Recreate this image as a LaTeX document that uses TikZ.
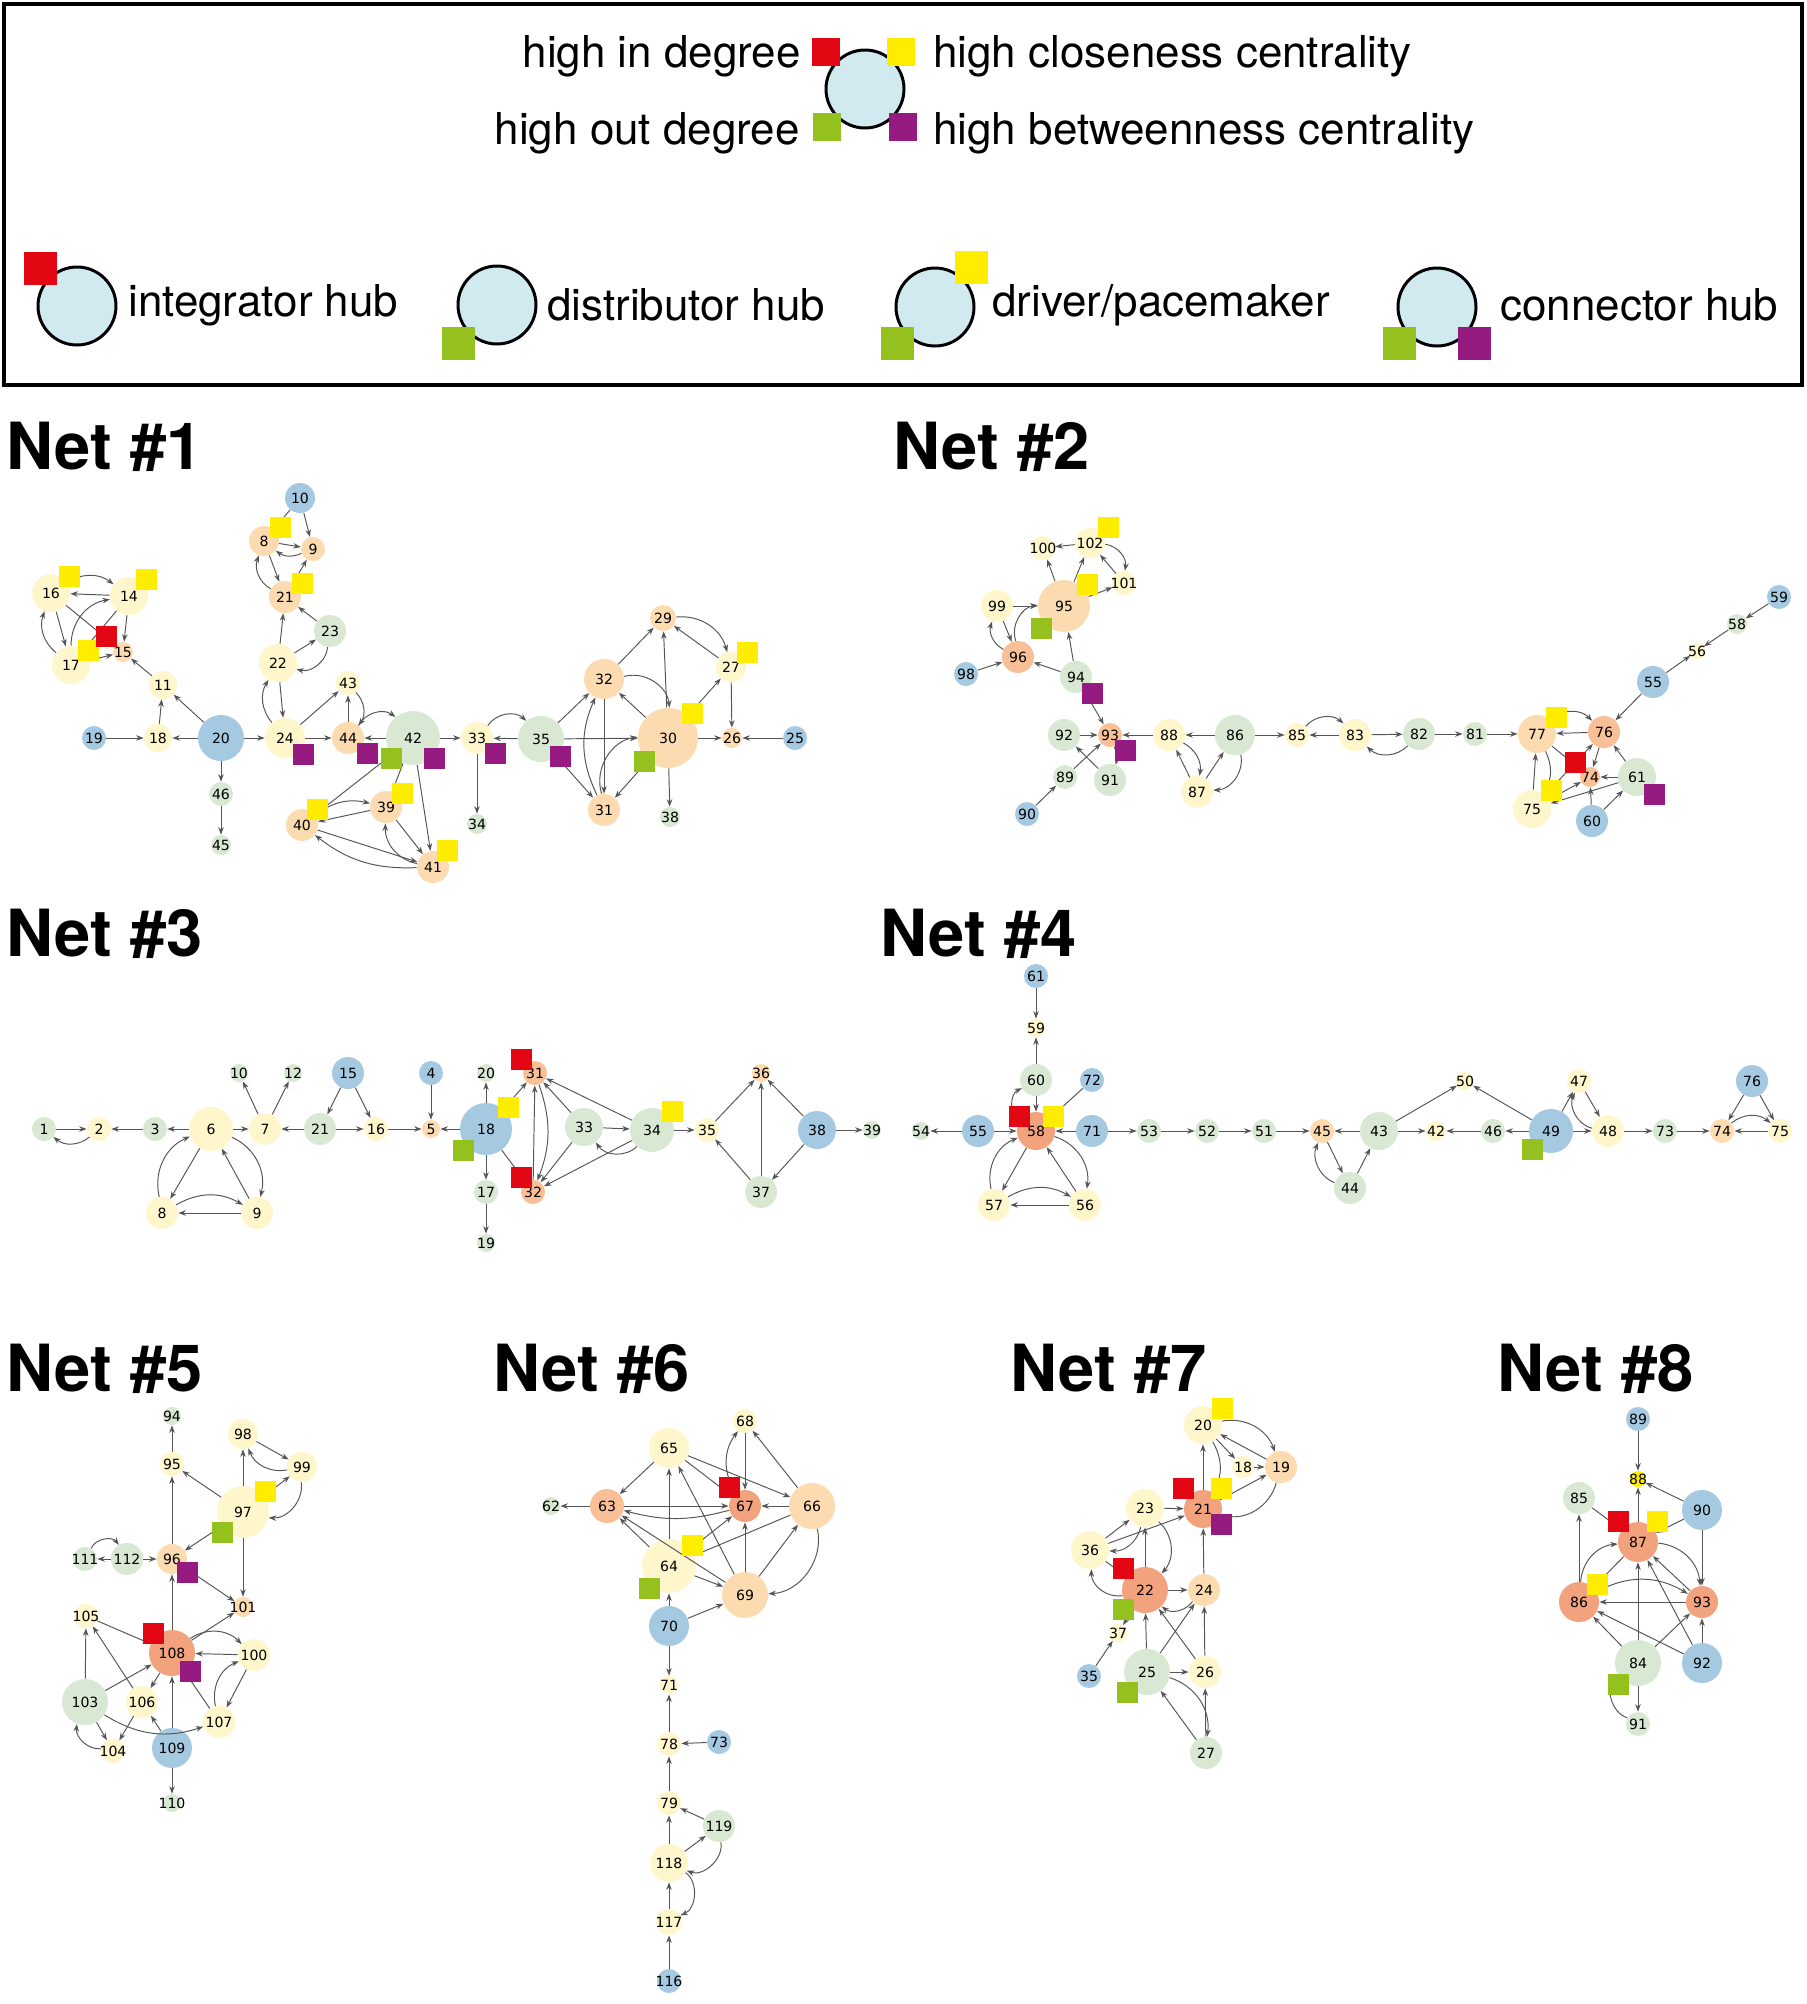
\documentclass[tikz,border=0pt]{standalone}
\usepackage{fontspec}
\setmainfont{TeX Gyre Heros}
\newfontfamily\lblfont{DejaVu Sans}
\usetikzlibrary{arrows.meta}

\definecolor{nblue}{RGB}{166,201,226}
\definecolor{nyel}{RGB}{255,246,204}
\definecolor{npeach}{RGB}{253,219,176}
\definecolor{norange}{RGB}{249,192,152}
\definecolor{nsalm}{RGB}{242,163,126}
\definecolor{ngreen}{RGB}{217,232,211}
\definecolor{hubcyan}{RGB}{208,234,240}
\definecolor{mred}{RGB}{227,6,19}
\definecolor{myel}{RGB}{255,237,0}
\definecolor{mgrn}{RGB}{149,193,31}
\definecolor{mpur}{RGB}{149,27,129}
\definecolor{linkgray}{RGB}{85,85,85}

\newcommand{\lb}[1]{\makebox[0pt]{#1}}

\tikzset{
  vtx/.style={circle, inner sep=0pt, minimum size=#1*0.4mm,
    font=\lblfont\fontsize{8}{8}\selectfont},
  nb/.style={fill=nblue}, ny/.style={fill=nyel}, np/.style={fill=npeach},
  no/.style={fill=norange}, ns/.style={fill=nsalm}, ng/.style={fill=ngreen},
  sqr/.style={rectangle, inner sep=0pt, minimum size=#1},
  qr/.style={fill=mred}, qy/.style={fill=myel}, qg/.style={fill=mgrn}, qp/.style={fill=mpur},
  hub/.style={circle, draw=black, line width=1.7pt, fill=hubcyan, minimum size=15.6mm},
  lgd/.style={font=\fontsize{25}{30}\selectfont, inner sep=0pt},
  nettitle/.style={font=\bfseries\fontsize{37}{40}\selectfont, inner sep=0pt, anchor=west}
}

\begin{document}
\begin{tikzpicture}[x=0.2mm, y=-0.2mm]
\useasboundingbox (0,0) rectangle (1807,2004);

% legend
\draw[line width=2.2pt] (4,4) rectangle (1802,385);
\node[hub] (lc) at (865,89) {};
\node[sqr=5.6mm, qr] (lcr) at (826,52) {};
\node[sqr=5.6mm, qy] (lcy) at (901,52) {};
\node[sqr=5.6mm, qg] (lcg) at (827,127) {};
\node[sqr=5.6mm, qp] (lcp) at (903,127) {};
\node[lgd, anchor=east] (l1) at (801,56) {high in degree};
\node[lgd, anchor=west] (l2) at (933,56) {high closeness centrality};
\node[lgd, anchor=east] (l3) at (800,133) {high out degree};
\node[lgd, anchor=west] (l4) at (933,133) {high betweenness centrality};

\node[hub] (hi) at (77,306) {};
\node[sqr=6.6mm, qr] (hir) at (40,268) {};
\node[lgd, anchor=west] (ti) at (128,305) {integrator hub};
\node[hub] (hd) at (497,305) {};
\node[sqr=6.6mm, qg] (hdg) at (458,343) {};
\node[lgd, anchor=west] (td) at (547,305) {distributor hub};
\node[hub] (hp) at (935,307) {};
\node[sqr=6.6mm, qy] (hpy) at (971,267) {};
\node[sqr=6.6mm, qg] (hpg) at (897,343) {};
\node[lgd, anchor=west] (tp) at (992,305) {driver/pacemaker};
\node[hub] (hc) at (1437,307) {};
\node[sqr=6.6mm, qg] (hcg) at (1399,343) {};
\node[sqr=6.6mm, qp] (hcp) at (1474,343) {};
\node[lgd, anchor=west] (tc) at (1500,305) {connector hub};

% titles
\node[nettitle] (t1) at (6,447) {Net \#1};
\node[nettitle] (t2) at (893,447) {Net \#2};
\node[nettitle] (t3) at (6,934) {Net \#3};
\node[nettitle] (t4) at (880,934) {Net \#4};
\node[nettitle] (t5) at (6,1369) {Net \#5};
\node[nettitle] (t6) at (493,1369) {Net \#6};
\node[nettitle] (t7) at (1010,1369) {Net \#7};
\node[nettitle] (t8) at (1497,1369) {Net \#8};

% Net 1
\node[vtx=15, nb] (a10) at (300,498) {\lb{10}};
\node[vtx=15, np] (a8) at (264,541) {\lb{8}};
\node[vtx=12, np] (a9) at (313,549) {\lb{9}};
\node[vtx=19, ny] (a16) at (51,593) {\lb{16}};
\node[vtx=19, ny] (a14) at (129,596) {\lb{14}};
\node[vtx=10, np] (a15) at (123,652) {\lb{15}};
\node[vtx=19, ny] (a17) at (71,665) {\lb{17}};
\node[vtx=14, ny] (a11) at (163,685) {\lb{11}};
\node[vtx=12, nb] (a19) at (94,738) {\lb{19}};
\node[vtx=14, ny] (a18) at (158,738) {\lb{18}};
\node[vtx=23, nb] (a20) at (221,738) {\lb{20}};
\node[vtx=12, ng] (a46) at (221,794) {\lb{46}};
\node[vtx=10, ng] (a45) at (221,845) {\lb{45}};
\node[vtx=16, np] (a21) at (285,597) {\lb{21}};
\node[vtx=16, ng] (a23) at (330,631) {\lb{23}};
\node[vtx=19, ny] (a22) at (278,663) {\lb{22}};
\node[vtx=20, ny] (a24) at (285,738) {\lb{24}};
\node[vtx=12, ny] (a43) at (348,683) {\lb{43}};
\node[vtx=16, np] (a44) at (348,738) {\lb{44}};
\node[vtx=27, ng] (a42) at (413,738) {\lb{42}};
\node[vtx=16, np] (a39) at (386,807) {\lb{39}};
\node[vtx=16, np] (a40) at (302,825) {\lb{40}};
\node[vtx=16, np] (a41) at (433,867) {\lb{41}};
\node[vtx=16, ny] (a33) at (477,738) {\lb{33}};
\node[vtx=10, ng] (a34) at (477,824) {\lb{34}};
\node[vtx=23, ng] (a35) at (541,739) {\lb{35}};
\node[vtx=20, np] (a32) at (604,679) {\lb{32}};
\node[vtx=13, np] (a29) at (663,618) {\lb{29}};
\node[vtx=15, ny] (a27) at (731,667) {\lb{27}};
\node[vtx=30, np] (a30) at (668,738) {\lb{30}};
\node[vtx=10, np] (a26) at (732,738) {\lb{26}};
\node[vtx=12, nb] (a25) at (795,738) {\lb{25}};
\node[vtx=16, np] (a31) at (604,810) {\lb{31}};
\node[vtx=10, ng] (a38) at (670,817) {\lb{38}};

% Net 2
\node[vtx=15, ny] (b102) at (1090,543) {\lb{102}};
\node[vtx=12, ny] (b100) at (1043,548) {\lb{100}};
\node[vtx=12, ny] (b101) at (1124,583) {\lb{101}};
\node[vtx=26, np] (b95) at (1064,606) {\lb{95}};
\node[vtx=16, ny] (b99) at (997,606) {\lb{99}};
\node[vtx=16, no] (b96) at (1018,657) {\lb{96}};
\node[vtx=12, nb] (b98) at (966,674) {\lb{98}};
\node[vtx=16, ng] (b94) at (1076,677) {\lb{94}};
\node[vtx=12, no] (b93) at (1110,735) {\lb{93}};
\node[vtx=16, ng] (b92) at (1064,735) {\lb{92}};
\node[vtx=12, ng] (b89) at (1065,777) {\lb{89}};
\node[vtx=16, ng] (b91) at (1110,780) {\lb{91}};
\node[vtx=12, nb] (b90) at (1027,814) {\lb{90}};
\node[vtx=16, ny] (b88) at (1169,735) {\lb{88}};
\node[vtx=20, ng] (b86) at (1235,735) {\lb{86}};
\node[vtx=16, ny] (b87) at (1197,792) {\lb{87}};
\node[vtx=12, ny] (b85) at (1297,735) {\lb{85}};
\node[vtx=16, ny] (b83) at (1355,735) {\lb{83}};
\node[vtx=16, ng] (b82) at (1419,734) {\lb{82}};
\node[vtx=12, ng] (b81) at (1475,734) {\lb{81}};
\node[vtx=19, np] (b77) at (1537,734) {\lb{77}};
\node[vtx=16, no] (b76) at (1604,732) {\lb{76}};
\node[vtx=10, no] (b74) at (1590,777) {\lb{74}};
\node[vtx=19, ng] (b61) at (1637,777) {\lb{61}};
\node[vtx=19, ny] (b75) at (1532,809) {\lb{75}};
\node[vtx=16, nb] (b60) at (1592,821) {\lb{60}};
\node[vtx=16, nb] (b55) at (1653,682) {\lb{55}};
\node[vtx=8, ny] (b56) at (1697,651) {\lb{56}};
\node[vtx=10, ng] (b58) at (1737,624) {\lb{58}};
\node[vtx=12, nb] (b59) at (1779,597) {\lb{59}};

% Net 3
\node[vtx=12, ng] (c1) at (44,1129) {\lb{1}};
\node[vtx=12, ny] (c2) at (99,1129) {\lb{2}};
\node[vtx=12, ng] (c3) at (155,1129) {\lb{3}};
\node[vtx=22, ny] (c6) at (211,1129) {\lb{6}};
\node[vtx=16, ny] (c7) at (265,1129) {\lb{7}};
\node[vtx=9, ng] (c10) at (239,1073) {\lb{10}};
\node[vtx=9, ng] (c12) at (293,1073) {\lb{12}};
\node[vtx=16, ng] (c21) at (320,1129) {\lb{21}};
\node[vtx=16, nb] (c15) at (348,1073) {\lb{15}};
\node[vtx=12, ny] (c16) at (376,1129) {\lb{16}};
\node[vtx=12, nb] (c4) at (431,1073) {\lb{4}};
\node[vtx=9, np] (c5) at (431,1129) {\lb{5}};
\node[vtx=16, ny] (c8) at (162,1213) {\lb{8}};
\node[vtx=16, ny] (c9) at (257,1213) {\lb{9}};
\node[vtx=9, ng] (c20) at (486,1073) {\lb{20}};
\node[vtx=26, nb] (c18) at (486,1129) {\lb{18}};
\node[vtx=12, ng] (c17) at (486,1192) {\lb{17}};
\node[vtx=9, ng] (c19) at (486,1243) {\lb{19}};
\node[vtx=12, no] (c31) at (535,1073) {\lb{31}};
\node[vtx=12, no] (c32) at (533,1192) {\lb{32}};
\node[vtx=19, ng] (c33) at (584,1127) {\lb{33}};
\node[vtx=22, ng] (c34) at (652,1130) {\lb{34}};
\node[vtx=12, ny] (c35) at (707,1130) {\lb{35}};
\node[vtx=9, np] (c36) at (761,1073) {\lb{36}};
\node[vtx=16, ng] (c37) at (761,1192) {\lb{37}};
\node[vtx=19, nb] (c38) at (817,1130) {\lb{38}};
\node[vtx=9, ng] (c39) at (872,1130) {\lb{39}};

% Net 4
\node[vtx=12, nb] (d61) at (1036,976) {\lb{61}};
\node[vtx=9, ny] (d59) at (1036,1028) {\lb{59}};
\node[vtx=16, ng] (d60) at (1036,1080) {\lb{60}};
\node[vtx=12, nb] (d72) at (1092,1080) {\lb{72}};
\node[vtx=19, ns] (d58) at (1036,1131) {\lb{58}};
\node[vtx=16, nb] (d55) at (978,1131) {\lb{55}};
\node[vtx=9, ng] (d54) at (921,1131) {\lb{54}};
\node[vtx=16, nb] (d71) at (1092,1131) {\lb{71}};
\node[vtx=12, ng] (d53) at (1149,1131) {\lb{53}};
\node[vtx=12, ng] (d52) at (1207,1131) {\lb{52}};
\node[vtx=12, ng] (d51) at (1264,1131) {\lb{51}};
\node[vtx=12, np] (d45) at (1322,1131) {\lb{45}};
\node[vtx=16, ny] (d57) at (994,1205) {\lb{57}};
\node[vtx=16, ny] (d56) at (1085,1205) {\lb{56}};
\node[vtx=19, ng] (d43) at (1379,1131) {\lb{43}};
\node[vtx=16, ng] (d44) at (1350,1188) {\lb{44}};
\node[vtx=9, ny] (d50) at (1465,1081) {\lb{50}};
\node[vtx=10, ny] (d42) at (1436,1131) {\lb{42}};
\node[vtx=12, ng] (d46) at (1493,1131) {\lb{46}};
\node[vtx=22, nb] (d49) at (1551,1131) {\lb{49}};
\node[vtx=12, ny] (d47) at (1579,1081) {\lb{47}};
\node[vtx=16, ny] (d48) at (1608,1131) {\lb{48}};
\node[vtx=12, ng] (d73) at (1665,1131) {\lb{73}};
\node[vtx=12, np] (d74) at (1722,1131) {\lb{74}};
\node[vtx=12, ny] (d75) at (1780,1131) {\lb{75}};
\node[vtx=16, nb] (d76) at (1752,1081) {\lb{76}};

% Net 5
\node[vtx=9, ng] (e94) at (172,1416) {\lb{94}};
\node[vtx=12, ny] (e95) at (172,1464) {\lb{95}};
\node[vtx=15, ny] (e98) at (243,1434) {\lb{98}};
\node[vtx=15, ny] (e99) at (302,1467) {\lb{99}};
\node[vtx=26, ny] (e97) at (243,1512) {\lb{97}};
\node[vtx=15, np] (e96) at (172,1559) {\lb{96}};
\node[vtx=16, ng] (e112) at (127,1559) {\lb{112}};
\node[vtx=12, ng] (e111) at (85,1559) {\lb{111}};
\node[vtx=10, np] (e101) at (243,1607) {\lb{101}};
\node[vtx=12, ny] (e105) at (86,1616) {\lb{105}};
\node[vtx=23, ns] (e108) at (172,1653) {\lb{108}};
\node[vtx=16, ny] (e100) at (254,1655) {\lb{100}};
\node[vtx=23, ng] (e103) at (85,1702) {\lb{103}};
\node[vtx=16, ny] (e106) at (142,1702) {\lb{106}};
\node[vtx=16, ny] (e107) at (219,1722) {\lb{107}};
\node[vtx=12, ny] (e104) at (113,1751) {\lb{104}};
\node[vtx=20, nb] (e109) at (172,1748) {\lb{109}};
\node[vtx=9, ng] (e110) at (172,1803) {\lb{110}};

% Net 6
\node[vtx=12, ny] (f68) at (745,1421) {\lb{68}};
\node[vtx=20, ny] (f65) at (669,1448) {\lb{65}};
\node[vtx=9, ng] (f62) at (551,1506) {\lb{62}};
\node[vtx=17, no] (f63) at (607,1506) {\lb{63}};
\node[vtx=16, ns] (f67) at (745,1506) {\lb{67}};
\node[vtx=23, np] (f66) at (812,1506) {\lb{66}};
\node[vtx=27, ny] (f64) at (669,1566) {\lb{64}};
\node[vtx=23, np] (f69) at (745,1595) {\lb{69}};
\node[vtx=20, nb] (f70) at (669,1626) {\lb{70}};
\node[vtx=9, ny] (f71) at (669,1685) {\lb{71}};
\node[vtx=12, ny] (f78) at (669,1744) {\lb{78}};
\node[vtx=12, nb] (f73) at (719,1742) {\lb{73}};
\node[vtx=12, ny] (f79) at (669,1803) {\lb{79}};
\node[vtx=16, ng] (f119) at (719,1826) {\lb{119}};
\node[vtx=19, ny] (f118) at (669,1863) {\lb{118}};
\node[vtx=13, ny] (f117) at (669,1922) {\lb{117}};
\node[vtx=12, nb] (f116) at (669,1981) {\lb{116}};

% Net 7
\node[vtx=19, ny] (g20) at (1203,1425) {\lb{20}};
\node[vtx=11, ny] (g18) at (1243,1467) {\lb{18}};
\node[vtx=16, np] (g19) at (1281,1467) {\lb{19}};
\node[vtx=19, ns] (g21) at (1203,1509) {\lb{21}};
\node[vtx=19, ny] (g23) at (1145,1508) {\lb{23}};
\node[vtx=19, ny] (g36) at (1090,1550) {\lb{36}};
\node[vtx=23, ns] (g22) at (1145,1590) {\lb{22}};
\node[vtx=16, np] (g24) at (1204,1590) {\lb{24}};
\node[vtx=9, ny] (g37) at (1118,1633) {\lb{37}};
\node[vtx=12, nb] (g35) at (1089,1676) {\lb{35}};
\node[vtx=23, ng] (g25) at (1147,1672) {\lb{25}};
\node[vtx=16, ny] (g26) at (1205,1672) {\lb{26}};
\node[vtx=16, ng] (g27) at (1206,1753) {\lb{27}};

% Net 8
\node[vtx=12, nb] (h89) at (1638,1419) {\lb{89}};
\node[vtx=8, fill=myel] (h88) at (1638,1479) {\lb{88}};
\node[vtx=16, ng] (h85) at (1579,1498) {\lb{85}};
\node[vtx=20, nb] (h90) at (1702,1510) {\lb{90}};
\node[vtx=20, ns] (h87) at (1638,1542) {\lb{87}};
\node[vtx=20, ns] (h86) at (1579,1602) {\lb{86}};
\node[vtx=16, ns] (h93) at (1702,1602) {\lb{93}};
\node[vtx=23, ng] (h84) at (1638,1663) {\lb{84}};
\node[vtx=20, nb] (h92) at (1702,1663) {\lb{92}};
\node[vtx=12, ng] (h91) at (1638,1724) {\lb{91}};

\begin{scope}[every edge/.style={draw=linkgray, line width=0.55pt, -{Stealth[length=1.5mm,width=1.1mm]}}]
  % Net 1
  \path (a10) edge (a9);
  \path (a10) edge (a8);
  \path (a8) edge (a9);
  \path (a9) edge[bend left=30] (a8);
  \path (a8) edge (a21);
  \path (a21) edge (a9);
  \path (a21) edge[bend left=40] (a8);
  \path (a23) edge (a21);
  \path (a22) edge (a21);
  \path (a22) edge (a23);
  \path (a23) edge[bend left=50] (a22);
  \path (a22) edge (a24);
  \path (a24) edge[bend left=35] (a22);
  \path (a24) edge (a43);
  \path (a24) edge (a44);
  \path (a44) edge (a43);
  \path (a43) edge[bend left=40] (a44);
  \path (a44) edge[bend left=50] (a42);
  \path (a42) edge (a44);
  \path (a42) edge (a33);
  \path (a42) edge (a40);
  \path (a42) edge (a39);
  \path (a42) edge (a41);
  \path (a39) edge (a40);
  \path (a40) edge[bend left=25] (a39);
  \path (a39) edge (a41);
  \path (a40) edge (a41);
  \path (a41) edge[bend left=20] (a40);
  \path (a41) edge[bend left=40] (a39);
  \path (a14) edge (a15);
  \path (a14) edge (a16);
  \path (a16) edge[bend left=35] (a14);
  \path (a16) edge (a17);
  \path (a17) edge[bend left=35] (a16);
  \path (a17) edge[bend left=40] (a14);
  \path (a17) edge (a15);
  \path (a16) edge (a15);
  \path (a14) edge (a17);
  \path (a11) edge (a15);
  \path (a18) edge (a11);
  \path (a20) edge (a11);
  \path (a19) edge (a18);
  \path (a20) edge (a18);
  \path (a20) edge (a24);
  \path (a20) edge (a46);
  \path (a46) edge (a45);
  \path (a33) edge[bend left=50] (a35);
  \path (a35) edge (a33);
  \path (a33) edge (a34);
  \path (a35) edge (a32);
  \path (a35) edge (a30);
  \path (a35) edge (a31);
  \path (a31) edge[bend left=25] (a32);
  \path (a32) edge (a31);
  \path (a31) edge[bend left=50] (a30);
  \path (a30) edge (a32);
  \path (a32) edge[bend left=50] (a30);
  \path (a32) edge (a29);
  \path (a30) edge (a29);
  \path (a29) edge[bend left=40] (a27);
  \path (a27) edge (a29);
  \path (a30) edge (a27);
  \path (a27) edge (a26);
  \path (a30) edge (a26);
  \path (a25) edge (a26);
  \path (a30) edge (a31);
  \path (a30) edge (a38);
  % Net 2
  \path (b102) edge (b100);
  \path (b102) edge[bend left=45] (b101);
  \path (b101) edge (b102);
  \path (b95) edge (b102);
  \path (b95) edge (b100);
  \path (b95) edge (b101);
  \path (b99) edge (b95);
  \path (b96) edge[bend left=50] (b95);
  \path (b99) edge (b96);
  \path (b96) edge[bend left=40] (b99);
  \path (b94) edge (b95);
  \path (b94) edge (b96);
  \path (b98) edge (b96);
  \path (b94) edge (b93);
  \path (b88) edge (b93);
  \path (b92) edge (b93);
  \path (b91) edge (b92);
  \path (b89) edge (b93);
  \path (b93) edge[bend left=20] (b91);
  \path (b90) edge (b89);
  \path (b86) edge (b88);
  \path (b88) edge[bend left=35] (b87);
  \path (b87) edge (b88);
  \path (b87) edge (b86);
  \path (b86) edge[bend left=50] (b87);
  \path (b86) edge (b85);
  \path (b83) edge (b85);
  \path (b85) edge[bend left=45] (b83);
  \path (b82) edge[bend left=45] (b83);
  \path (b83) edge (b82);
  \path (b82) edge (b81);
  \path (b81) edge (b77);
  \path (b76) edge (b77);
  \path (b77) edge[bend left=45] (b76);
  \path (b55) edge (b76);
  \path (b55) edge (b56);
  \path (b58) edge (b56);
  \path (b59) edge (b58);
  \path (b76) edge (b74);
  \path (b61) edge (b76);
  \path (b61) edge (b74);
  \path (b60) edge (b74);
  \path (b60) edge (b61);
  \path (b61) edge (b75);
  \path (b75) edge (b77);
  \path (b75) edge (b74);
  \path (b75) edge (b76);
  \path (b77) edge (b74);
  \path (b77) edge[bend left=30] (b75);
  % Net 3
  \path (c1) edge (c2);
  \path (c2) edge[bend left=40] (c1);
  \path (c3) edge (c2);
  \path (c6) edge (c3);
  \path (c6) edge (c7);
  \path (c7) edge (c10);
  \path (c7) edge (c12);
  \path (c21) edge (c7);
  \path (c21) edge (c16);
  \path (c15) edge (c21);
  \path (c15) edge (c16);
  \path (c16) edge (c5);
  \path (c4) edge (c5);
  \path (c18) edge (c5);
  \path (c6) edge (c8);
  \path (c8) edge[bend left=40] (c6);
  \path (c6) edge[bend left=40] (c9);
  \path (c9) edge (c6);
  \path (c8) edge[bend left=30] (c9);
  \path (c9) edge (c8);
  \path (c18) edge (c20);
  \path (c18) edge (c17);
  \path (c17) edge (c19);
  \path (c18) edge (c31);
  \path (c18) edge (c32);
  \path (c32) edge (c31);
  \path (c31) edge[bend left=20] (c32);
  \path (c33) edge (c31);
  \path (c34) edge (c31);
  \path (c33) edge (c32);
  \path (c34) edge (c32);
  \path (c33) edge (c34);
  \path (c34) edge[bend left=50] (c33);
  \path (c34) edge (c35);
  \path (c35) edge (c36);
  \path (c37) edge (c35);
  \path (c37) edge (c36);
  \path (c38) edge (c36);
  \path (c38) edge (c37);
  \path (c38) edge (c39);
  % Net 4
  \path (d61) edge (d59);
  \path (d60) edge (d59);
  \path (d60) edge (d58);
  \path (d58) edge[bend left=60] (d60);
  \path (d72) edge (d58);
  \path (d55) edge (d54);
  \path (d55) edge (d58);
  \path (d71) edge (d58);
  \path (d71) edge (d53);
  \path (d53) edge (d52);
  \path (d52) edge (d51);
  \path (d51) edge (d45);
  \path (d58) edge (d57);
  \path (d57) edge[bend left=40] (d58);
  \path (d56) edge (d58);
  \path (d58) edge[bend left=40] (d56);
  \path (d56) edge (d57);
  \path (d57) edge[bend left=30] (d56);
  \path (d43) edge (d45);
  \path (d45) edge (d44);
  \path (d44) edge[bend left=45] (d45);
  \path (d44) edge (d43);
  \path (d43) edge (d42);
  \path (d43) edge (d50);
  \path (d46) edge (d42);
  \path (d49) edge (d46);
  \path (d49) edge (d50);
  \path (d49) edge (d48);
  \path (d49) edge (d47);
  \path (d48) edge[bend left=50] (d47);
  \path (d47) edge (d48);
  \path (d48) edge (d73);
  \path (d73) edge (d74);
  \path (d75) edge (d74);
  \path (d74) edge[bend left=40] (d75);
  \path (d76) edge (d74);
  \path (d76) edge (d75);
  % Net 5
  \path (e95) edge (e94);
  \path (e96) edge (e95);
  \path (e97) edge (e95);
  \path (e97) edge (e98);
  \path (e98) edge (e99);
  \path (e99) edge[bend left=40] (e98);
  \path (e97) edge (e99);
  \path (e99) edge[bend left=50] (e97);
  \path (e97) edge (e96);
  \path (e97) edge (e101);
  \path (e96) edge (e101);
  \path (e112) edge (e96);
  \path (e112) edge (e111);
  \path (e111) edge[bend left=60] (e112);
  \path (e108) edge (e96);
  \path (e108) edge (e101);
  \path (e108) edge[bend left=40] (e100);
  \path (e100) edge (e108);
  \path (e100) edge (e107);
  \path (e107) edge[bend left=40] (e100);
  \path (e107) edge (e108);
  \path (e108) edge (e106);
  \path (e103) edge (e108);
  \path (e103) edge (e105);
  \path (e106) edge (e105);
  \path (e105) edge (e108);
  \path (e103) edge[bend right=25] (e107);
  \path (e103) edge (e104);
  \path (e104) edge[bend left=50] (e103);
  \path (e106) edge (e104);
  \path (e109) edge (e108);
  \path (e109) edge (e106);
  \path (e109) edge (e110);
  % Net 6
  \path (f63) edge (f62);
  \path (f65) edge (f63);
  \path (f63) edge (f67);
  \path (f67) edge[bend left=15] (f63);
  \path (f64) edge (f63);
  \path (f69) edge (f63);
  \path (f64) edge (f65);
  \path (f65) edge (f67);
  \path (f65) edge (f66);
  \path (f66) edge (f64);
  \path (f64) edge (f67);
  \path (f69) edge (f65);
  \path (f67) edge[bend left=35] (f68);
  \path (f68) edge (f67);
  \path (f66) edge (f68);
  \path (f66) edge (f67);
  \path (f69) edge (f67);
  \path (f69) edge (f66);
  \path (f66) edge[bend left=50] (f69);
  \path (f64) edge (f69);
  \path (f70) edge (f64);
  \path (f70) edge (f69);
  \path (f70) edge (f71);
  \path (f78) edge (f71);
  \path (f73) edge (f78);
  \path (f79) edge (f78);
  \path (f119) edge (f79);
  \path (f118) edge (f79);
  \path (f118) edge (f119);
  \path (f119) edge[bend left=60] (f118);
  \path (f118) edge[bend left=60] (f117);
  \path (f117) edge (f118);
  \path (f116) edge (f117);
  % Net 7
  \path (g21) edge (g20);
  \path (g20) edge[bend left=40] (g19);
  \path (g19) edge (g20);
  \path (g20) edge (g18);
  \path (g18) edge (g19);
  \path (g21) edge (g19);
  \path (g19) edge[bend left=45] (g21);
  \path (g20) edge[bend left=30] (g21);
  \path (g23) edge (g21);
  \path (g36) edge (g21);
  \path (g36) edge (g23);
  \path (g23) edge[bend left=40] (g36);
  \path (g22) edge (g23);
  \path (g23) edge[bend left=45] (g22);
  \path (g22) edge[bend left=50] (g36);
  \path (g36) edge (g22);
  \path (g24) edge (g21);
  \path (g22) edge (g24);
  \path (g22) edge (g37);
  \path (g35) edge (g37);
  \path (g25) edge (g22);
  \path (g25) edge (g24);
  \path (g24) edge[bend left=45] (g22);
  \path (g26) edge (g22);
  \path (g25) edge (g26);
  \path (g26) edge (g24);
  \path (g25) edge[bend left=40] (g27);
  \path (g27) edge (g25);
  \path (g27) edge (g26);
  % Net 8
  \path (h89) edge (h88);
  \path (h87) edge (h88);
  \path (h90) edge (h88);
  \path (h90) edge (h87);
  \path (h90) edge (h93);
  \path (h86) edge (h85);
  \path (h85) edge (h87);
  \path (h86) edge[bend left=40] (h87);
  \path (h87) edge (h86);
  \path (h87) edge[bend left=40] (h93);
  \path (h93) edge (h87);
  \path (h86) edge[bend left=30] (h93);
  \path (h93) edge (h86);
  \path (h84) edge (h86);
  \path (h84) edge (h87);
  \path (h84) edge (h93);
  \path (h92) edge (h86);
  \path (h92) edge (h87);
  \path (h92) edge (h93);
  \path (h84) edge (h91);
  \path (h91) edge[bend left=60] (h84);
\end{scope}

% hub markers
\begin{scope}[every node/.style={sqr=4.2mm}]
  \node[qy] (a8y) at (280,527) {};
  \node[qy] (a21y) at (302,583) {};
  \node[qy] (a16y) at (69,576) {};
  \node[qy] (a14y) at (146,579) {};
  \node[qy] (a17y) at (88,650) {};
  \node[qr] (a15r) at (106,636) {};
  \node[qy] (a39y) at (402,793) {};
  \node[qy] (a40y) at (317,809) {};
  \node[qy] (a41y) at (447,850) {};
  \node[qy] (a27y) at (747,652) {};
  \node[qy] (a30y) at (692,713) {};
  \node[qp] (a24p) at (303,754) {};
  \node[qp] (a44p) at (367,753) {};
  \node[qg] (a42g) at (391,758) {};
  \node[qp] (a42p) at (434,758) {};
  \node[qp] (a33p) at (495,753) {};
  \node[qp] (a35p) at (560,756) {};
  \node[qg] (a30g) at (644,761) {};

  \node[qy] (b102y) at (1108,527) {};
  \node[qy] (b95y) at (1087,584) {};
  \node[qg] (b95g) at (1041,628) {};
  \node[qp] (b94p) at (1092,693) {};
  \node[qp] (b93p) at (1125,750) {};
  \node[qy] (b77y) at (1556,717) {};
  \node[qr] (b74r) at (1575,762) {};
  \node[qy] (b75y) at (1551,790) {};
  \node[qp] (b61p) at (1654,794) {};

  \node[qy] (c18y) at (508,1107) {};
  \node[qg] (c18g) at (463,1150) {};
  \node[qr] (c31r) at (521,1059) {};
  \node[qr] (c32r) at (521,1177) {};
  \node[qy] (c34y) at (672,1111) {};

  \node[qr] (d58r) at (1019,1116) {};
  \node[qy] (d58y) at (1053,1116) {};
  \node[qg] (d49g) at (1532,1149) {};

  \node[qy] (e97y) at (265,1491) {};
  \node[qg] (e97g) at (222,1532) {};
  \node[qp] (e96p) at (187,1572) {};
  \node[qr] (e108r) at (153,1633) {};
  \node[qp] (e108p) at (190,1671) {};

  \node[qr] (f67r) at (729,1487) {};
  \node[qy] (f64y) at (692,1545) {};
  \node[qg] (f64g) at (649,1588) {};

  \node[qy] (g20y) at (1222,1408) {};
  \node[qr] (g21r) at (1183,1488) {};
  \node[qy] (g21y) at (1221,1488) {};
  \node[qp] (g21p) at (1221,1524) {};
  \node[qr] (g22r) at (1123,1568) {};
  \node[qg] (g22g) at (1123,1609) {};
  \node[qg] (g25g) at (1127,1692) {};

  \node[qr] (h87r) at (1618,1521) {};
  \node[qy] (h87y) at (1657,1521) {};
  \node[qy] (h86y) at (1597,1584) {};
  \node[qg] (h84g) at (1618,1684) {};
\end{scope}

\end{tikzpicture}
\end{document}
